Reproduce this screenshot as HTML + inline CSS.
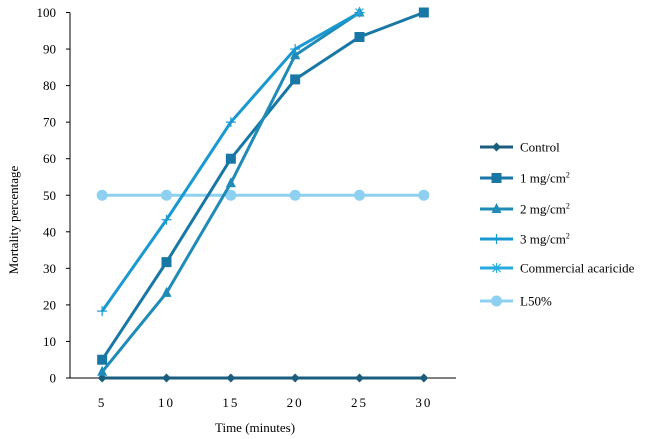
<!DOCTYPE html>
<html><head><meta charset="utf-8"><style>
body{margin:0;background:#fff;}
svg{display:block;font-family:"Liberation Serif",serif;}
</style></head><body>
<svg id="c" width="653" height="439"></svg>
<script>
const categories=[5,10,15,20,25,30];
const controlVals=[0,0,0,0,0,0];
const mg1Vals=[5,31.7,60,81.7,93.3,100];
const mg2Vals=[1.7,23.3,53.3,88.3,100,null];
const mg3Vals=[18.3,43.3,70,90,100,null];
const commercialVals=[null,null,null,null,100,null];
const l50Vals=[50,50,50,50,50,50];
const yTicks=[0,10,20,30,40,50,60,70,80,90,100];
const seriesNames=["Control","1 mg/cm","2 mg/cm","3 mg/cm","Commercial acaricide","L50%"];

const NS="http://www.w3.org/2000/svg";
const svg=document.getElementById('c');
const X0=70,X1=456,Y0=378,Y1=12.5;
const bw=(X1-X0)/categories.length;
const xs=i=>X0+bw*(i+0.5);
const ys=v=>Y0-(v/100)*(Y0-Y1);
function el(t,a,p){const e=document.createElementNS(NS,t);for(const k in a)e.setAttribute(k,a[k]);(p||svg).appendChild(e);return e;}

const axes=el('g',{});


const ya=el('line',{x1:X0,y1:Y1,x2:X0,y2:Y0,stroke:'#000','stroke-width':1},axes);


const xa=el('line',{x1:X0,y1:Y0,x2:X1,y2:Y0,stroke:'#000','stroke-width':1},axes);


yTicks.forEach(v=>{
  el('line',{x1:X0-4,y1:ys(v),x2:X0,y2:ys(v),stroke:'#000'},axes);
  const t=el('text',{x:X0-14,y:ys(v)+4.5,'text-anchor':'end','font-size':13},axes);
  t.textContent=v;
  
  
});
categories.forEach((c,i)=>{
  const t=el('text',{x:xs(i),y:407,'text-anchor':'middle','font-size':13,'letter-spacing':'2'},axes);
  t.textContent=c;
  
  
});
const xt=el('text',{x:255,y:432,'text-anchor':'middle','font-size':13});
xt.textContent='Time (minutes)';


const yt=el('text',{x:18,y:220,'text-anchor':'middle','font-size':13,transform:'rotate(-90 18 220)'});
yt.textContent='Mortality percentage';



function marker(g,type,x,y,col){
  if(type==='diamond')el('polygon',{points:`${x},${y-4.5} ${x+4.5},${y} ${x},${y+4.5} ${x-4.5},${y}`,fill:col},g);
  else if(type==='square')el('rect',{x:x-5,y:y-5,width:10,height:10,fill:col},g);
  else if(type==='triangle')el('polygon',{points:`${x},${y-6} ${x+5},${y+4} ${x-5},${y+4}`,fill:col},g);
  else if(type==='plus'){el('line',{x1:x-5,y1:y,x2:x+5,y2:y,stroke:col,'stroke-width':1.2},g);el('line',{x1:x,y1:y-5,x2:x,y2:y+5,stroke:col,'stroke-width':1.2},g);}
  else if(type==='star'){el('line',{x1:x-4,y1:y-4,x2:x+4,y2:y+4,stroke:col,'stroke-width':1.2},g);el('line',{x1:x-4,y1:y+4,x2:x+4,y2:y-4,stroke:col,'stroke-width':1.2},g);el('line',{x1:x,y1:y-5,x2:x,y2:y+5,stroke:col,'stroke-width':1.2},g);}
  else if(type==='circle')el('circle',{cx:x,cy:y,r:5.5,fill:col},g);
}
const series=[
 {name:'l50',vals:l50Vals,col:'#8dd0ef',m:'circle'},
 {name:'control',vals:controlVals,col:'#1b5d7d',m:'diamond'},
 {name:'1mg',vals:mg1Vals,col:'#1877a5',m:'square'},
 {name:'2mg',vals:mg2Vals,col:'#1f8bb6',m:'triangle'},
 {name:'3mg',vals:mg3Vals,col:'#1a99d1',m:'plus'},
 {name:'commercial',vals:commercialVals,col:'#27aade',m:'star'}
];
series.forEach(s=>{
  const g=el('g',{});
  
  
  let pts=[];
  s.vals.forEach((v,i)=>{if(v!==null)pts.push(xs(i)+','+ys(v));});
  if(pts.length>1)el('polyline',{points:pts.join(' '),fill:'none',stroke:s.col,'stroke-width':3},g);
  s.vals.forEach((v,i)=>{if(v!==null)marker(g,s.m,xs(i),ys(v),s.col);});
});

const legendOrder=[
 {col:'#1b5d7d',m:'diamond',y:147,sup:false},
 {col:'#1877a5',m:'square',y:178,sup:true},
 {col:'#1f8bb6',m:'triangle',y:209,sup:true},
 {col:'#1a99d1',m:'plus',y:239,sup:true},
 {col:'#27aade',m:'star',y:268,sup:false},
 {col:'#8dd0ef',m:'circle',y:301,sup:false}
];
legendOrder.forEach((l,i)=>{
  const g=el('g',{});
  
  
  el('line',{x1:480,y1:l.y,x2:513,y2:l.y,stroke:l.col,'stroke-width':3},g);
  marker(g,l.m,496.5,l.y,l.col);
  const t=el('text',{x:520,y:l.y+4.5,'font-size':13},g);
  t.textContent=seriesNames[i];
  if(l.sup){const s=el('tspan',{dy:-5,'font-size':8},t);s.textContent='2';}
});
</script>
</body></html>
